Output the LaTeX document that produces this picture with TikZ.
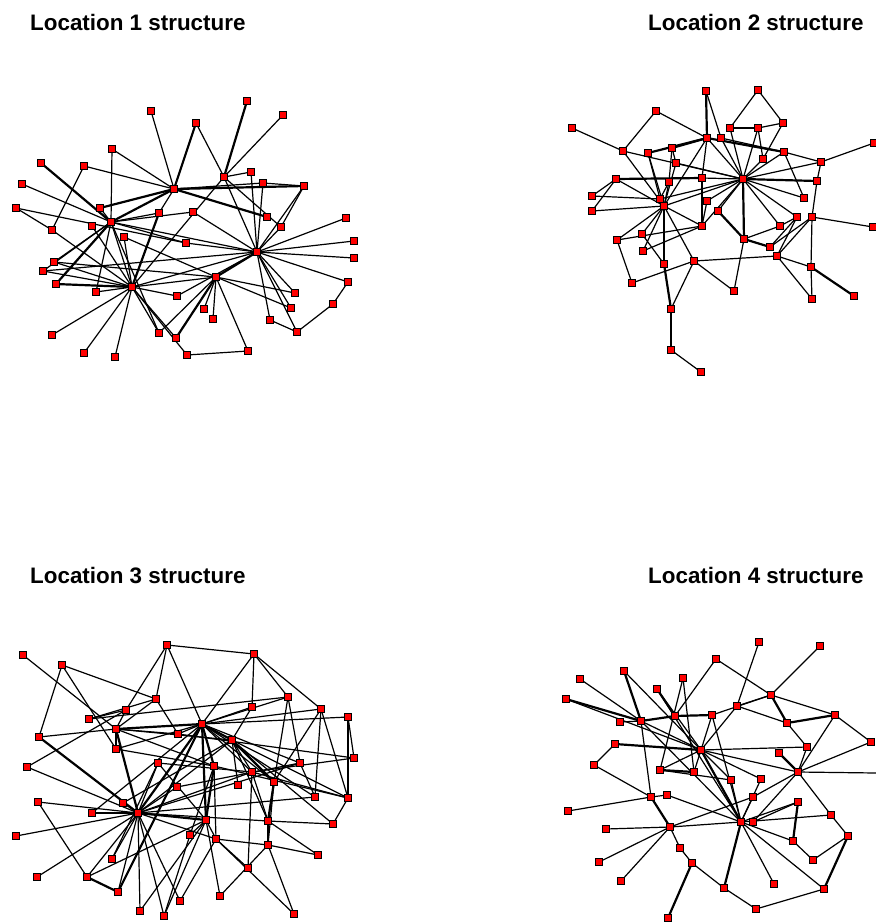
\documentclass[tikz,border=0pt]{standalone}
\usepackage{fontspec}
\setmainfont{Liberation Sans}
\pgfdeclarelayer{bgfill}
\pgfdeclarelayer{edges}
\pgfsetlayers{bgfill,edges,main}
\tikzset{
  nd/.style={rectangle,draw=black,fill=red,minimum size=6.5pt,inner sep=0pt,line width=0.9pt},
  ed/.style={draw=black,line width=1.2pt},
  edt/.style={draw=black,line width=2.2pt},
  ttl/.style={anchor=base west,inner sep=0pt,font=\bfseries\fontsize{22.4}{26}\selectfont}
}
\begin{document}
\begin{tikzpicture}[x=1pt,y=-1pt]
\begin{pgfonlayer}{bgfill}
\fill[white] (0,0) rectangle (876,922);
\end{pgfonlayer}
\useasboundingbox (0,0) rectangle (876,922);
\node[ttl] (t1) at (30,30) {Location 1 structure};
\node[ttl] (t2) at (648,30) {Location 2 structure};
\node[ttl] (t3) at (30,583) {Location 3 structure};
\node[ttl] (t4) at (648,583) {Location 4 structure};
% ---------- network 1 ----------
\foreach \n/\x/\y in {A1/151/111,A2/112/149,A3/41/163,A4/84/166,A5/22/184,A6/174/189,A7/16/208,A8/100/208,A9/159/213,A10/111/222,
A11/92/226,A12/52/230,A13/124/237,A14/186/243,A15/54/262,A16/43/271,A17/56/284,A18/96/292,A19/132/287,A20/177/296,
A21/52/335,A22/159/333,A23/176/338,A24/84/353,A25/115/357,A26/187/355,A27/247/101,A28/283/115,A29/196/123,A30/224/177,
A31/251/172,A32/263/183,A33/304/186,A34/193/212,A35/267/217,A36/281/227,A37/346/218,A38/354/241,A39/257/252,A40/354/258,
A41/216/277,A42/348/282,A43/295/293,A44/333/304,A45/204/309,A46/291/308,A47/213/319,A48/270/320,A49/297/332,A50/248/351}
  \node[nd] (\n) at (\x,\y) {};
% ---------- network 2 ----------
\foreach \n/\x/\y in {B1/706/91,B2/656/111,B3/572/128,B4/707/138,B5/672/148,B6/648/153,B7/623/151,B8/676/163,B9/702/178,B10/616/179,
B11/669/182,B12/592/196,B13/660/199,B14/664/206,B15/707/201,B16/592/211,B17/702/226,B18/642/234,B19/617/240,B20/643/251,
B21/664/264,B22/694/261,B23/632/283,B24/671/309,B25/671/350,B26/701/372,B27/758/90,B28/730/128,B29/758/128,B30/783/123,
B31/721/138,B32/784/152,B33/763/159,B34/874/143,B35/821/162,B36/743/179,B37/817/181,B38/804/198,B39/718/211,B40/797/217,
B41/812/217,B42/873/227,B43/780/226,B44/744/239,B45/770/247,B46/777/256,B47/811/267,B48/734/291,B49/812/299,B50/854/296}
  \node[nd] (\n) at (\x,\y) {};
% ---------- network 3 ----------
\foreach \n/\x/\y in {C1/23/655,C2/167/645,C3/62/665,C4/156/699,C5/126/710,C6/89/719,C7/116/729,C8/178/734,C9/39/737,C10/116/749,
C11/158/763,C12/27/767,C13/177/787,C14/38/802,C15/123/803,C16/92/813,C17/138/813,C18/16/836,C19/112/859,C20/37/877,
C21/87/877,C22/118/892,C23/180/901,C24/140/911,C25/164/916,C26/254/654,C27/288/697,C28/252/707,C29/321/709,C30/348/717,
C31/202/724,C32/232/740,C33/354/758,C34/300/763,C35/214/766,C36/252/772,C37/238/785,C38/274/782,C39/315/797,C40/348/798,
C41/206/820,C42/268/821,C43/333/824,C44/190/835,C45/216/839,C46/268/845,C47/318/855,C48/248/868,C49/220/896,C50/294/914}
  \node[nd] (\n) at (\x,\y) {};
% ---------- network 4 ----------
\foreach \n/\x/\y in {D1/716/659,D2/624/671,D3/580/679,D4/683/678,D5/657/689,D6/566/699,D7/641/721,D8/620/722,D9/675/716,D10/712/715,
D11/615/744,D12/701/750,D13/594/765,D14/660/770,D15/694/772,D16/651/797,D17/667/795,D18/568/811,D19/670/827,D20/606/829,
D21/680/848,D22/692/863,D23/599/862,D24/621/881,D25/668/918,D26/759/642,D27/820/646,D28/771/695,D29/737/706,D30/787/723,
D31/835/715,D32/871/742,D33/807/747,D34/779/753,D35/798/772,D36/731/780,D37/761/779,D38/753/797,D39/798/802,D40/831/815,
D41/741/822,D42/753/822,D43/848/836,D44/793/841,D45/813/860,D46/724/888,D47/774/884,D48/824/889,D49/756/909}
  \node[nd] (\n) at (\x,\y) {};
\coordinate (Dout) at (876,773);
\begin{pgfonlayer}{edges}
% network 1
\foreach \a/\b in {A1/A6,A2/A10,A2/A6,A4/A6,A4/A12,A5/A10,A7/A12,A7/A14,A12/A19,A8/A10,A10/A14,A10/A15,A10/A16,A10/A18,
A10/A19,A10/A22,A11/A19,A13/A19,A9/A6,A15/A19,A16/A19,A18/A19,A19/A21,A19/A24,A19/A25,A19/A20,A19/A22,A19/A23,
A19/A26,A19/A41,A19/A39,A28/A30,A29/A30,A30/A31,A30/A39,A32/A39,A31/A39,A33/A39,A34/A39,A14/A39,A39/A37,A39/A38,
A39/A40,A39/A42,A39/A43,A39/A46,A39/A48,A39/A49,A42/A44,A44/A49,A41/A50,A50/A26,A41/A43,A41/A46,A41/A45,A41/A47,
A41/A22,A30/A36,A10/A39,A13/A41,A33/A36,A6/A32,A32/A33,A20/A39,A10/A34,A15/A41,A16/A39,A9/A10,A48/A49,A30/A19,A36/A39}
  \draw[ed] (\a.center) -- (\b.center);
\foreach \a/\b in {A3/A10,A10/A6,A8/A6,A9/A19,A17/A19,A27/A30,A29/A6,A6/A33,A6/A35,A39/A41,A41/A23,A17/A10}
  \draw[edt] (\a.center) -- (\b.center);
% network 2
\foreach \a/\b in {B1/B31,B27/B28,B27/B30,B2/B4,B2/B7,B3/B7,B7/B14,B7/B36,B6/B13,B6/B14,B10/B12,B10/B16,B10/B14,
B12/B13,B16/B14,B8/B14,B11/B14,B14/B19,B14/B18,B14/B20,B14/B22,B14/B17,B14/B4,B14/B36,B19/B23,B23/B22,B19/B17,
B20/B17,B22/B24,B24/B25,B25/B26,B22/B46,B22/B48,B36/B28,B36/B29,B36/B33,B36/B32,B36/B35,B36/B38,B36/B40,
B36/B43,B36/B39,B36/B9,B36/B15,B36/B17,B36/B13,B35/B34,B35/B37,B37/B41,B32/B38,B30/B33,B44/B48,B44/B43,B40/B43,
B41/B42,B41/B47,B45/B40,B46/B41,B45/B41,B46/B40,B46/B47,B47/B49,B46/B49,B31/B32,B28/B29,B29/B30,B29/B33,B32/B35,
B9/B17,B15/B17,B4/B9,B5/B8,B11/B13,B18/B21,B36/B31,B36/B4,B5/B11,B8/B36}
  \draw[ed] (\a.center) -- (\b.center);
\foreach \a/\b in {B1/B4,B6/B4,B5/B4,B10/B9,B14/B21,B36/B37,B36/B44,B44/B39,B44/B45,B47/B50,B4/B32,B21/B24}
  \draw[edt] (\a.center) -- (\b.center);
% network 3
\foreach \a/\b in {C1/C7,C3/C4,C3/C9,C3/C10,C2/C26,C2/C5,C2/C31,C26/C31,C26/C28,C26/C29,C29/C40,C29/C38,
C4/C6,C5/C6,C6/C27,C5/C7,C4/C7,C7/C8,C7/C10,C7/C32,C7/C35,C9/C7,C12/C17,C12/C5,C14/C17,C14/C21,C18/C17,
C15/C17,C17/C19,C17/C20,C17/C21,C17/C22,C17/C23,C17/C24,C17/C25,C17/C32,C17/C36,C17/C13,C17/C11,C17/C42,
C17/C45,C17/C34,C17/C39,C11/C19,C21/C41,C31/C36,C31/C28,C31/C27,C31/C30,C31/C29,C31/C34,C31/C38,C31/C39,
C31/C10,C31/C8,C32/C37,C32/C36,C32/C42,C32/C40,C32/C43,C32/C28,C35/C45,C35/C44,C35/C40,C36/C42,C36/C48,
C36/C33,C38/C46,C38/C27,C41/C45,C41/C44,C41/C49,C41/C25,C45/C48,C45/C50,C45/C46,C42/C46,C42/C47,C42/C43,
C46/C47,C46/C50,C44/C25,C23/C45,C33/C30,C39/C29,C39/C34,C27/C34,C30/C40,C43/C40,C40/C36,C2/C4,C4/C8,C26/C27,
C11/C36,C13/C34,C16/C31,C15/C32,C10/C35,C8/C33,C11/C41,C24/C41,C49/C46}
  \draw[ed] (\a.center) -- (\b.center);
\foreach \a/\b in {C7/C31,C7/C17,C9/C17,C16/C17,C17/C31,C17/C41,C31/C35,C31/C32,C32/C38,C35/C41,C38/C42,C31/C41,C22/C31,C21/C22}
  \draw[edt] (\a.center) -- (\b.center);
% network 4
\foreach \a/\b in {D3/D7,D6/D12,D2/D12,D4/D15,D1/D9,D5/D12,D7/D12,D8/D7,D7/D16,D11/D13,D13/D16,D12/D14,
D19/D21,D21/D22,D18/D16,D20/D19,D23/D19,D24/D19,D17/D41,D16/D17,D12/D29,D12/D10,D12/D36,D12/D37,D12/D33,
D12/D35,D26/D29,D27/D28,D1/D28,D28/D29,D28/D31,D29/D30,D31/D32,D31/D35,D33/D35,D30/D33,D35/D32,D35/Dout,
D35/D40,D35/D42,D40/D43,D43/D45,D40/D41,D44/D45,D48/D49,D49/D46,D22/D46,D41/D47,D41/D44,D41/D48,D41/D38,
D41/D37,D41/D36,D41/D10,D10/D28,D38/D35,D39/D41,D42/D39,D12/D15,D41/D7,D41/D5,D19/D41,D19/D38,D14/D36,D4/D14}
  \draw[ed] (\a.center) -- (\b.center);
\foreach \a/\b in {D2/D7,D6/D7,D5/D9,D7/D9,D9/D10,D11/D12,D14/D15,D16/D19,D22/D25,D28/D30,D30/D31,D34/D35,
D43/D48,D41/D46,D12/D41,D44/D39}
  \draw[edt] (\a.center) -- (\b.center);
\end{pgfonlayer}
\end{tikzpicture}
\end{document}
